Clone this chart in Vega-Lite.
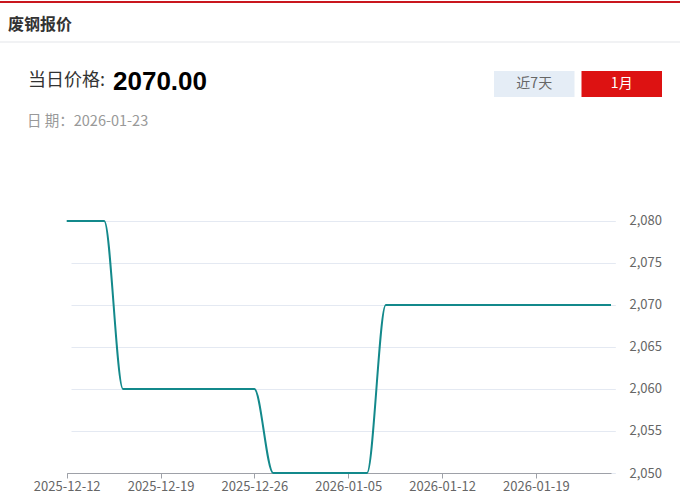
{
  "$schema": "https://vega.github.io/schema/vega-lite/v6.json",
  "width": 568,
  "height": 473,
  "autosize": {"type": "none"},
  "padding": {"left": 57, "top": 0, "right": 55, "bottom": 21},
  "background": "#ffffff",
  "config": {"view": {"stroke": null}, "font": "Noto Sans CJK SC"},
  "datasets": {
    "prices": [
      {"date": "2025-12-12", "price": 2080},
      {"date": "2025-12-15", "price": 2080},
      {"date": "2025-12-16", "price": 2080},
      {"date": "2025-12-17", "price": 2060},
      {"date": "2025-12-18", "price": 2060},
      {"date": "2025-12-19", "price": 2060},
      {"date": "2025-12-22", "price": 2060},
      {"date": "2025-12-23", "price": 2060},
      {"date": "2025-12-24", "price": 2060},
      {"date": "2025-12-25", "price": 2060},
      {"date": "2025-12-26", "price": 2060},
      {"date": "2025-12-29", "price": 2050},
      {"date": "2025-12-30", "price": 2050},
      {"date": "2025-12-31", "price": 2050},
      {"date": "2026-01-04", "price": 2050},
      {"date": "2026-01-05", "price": 2050},
      {"date": "2026-01-06", "price": 2050},
      {"date": "2026-01-07", "price": 2070},
      {"date": "2026-01-08", "price": 2070},
      {"date": "2026-01-09", "price": 2070},
      {"date": "2026-01-12", "price": 2070},
      {"date": "2026-01-13", "price": 2070},
      {"date": "2026-01-14", "price": 2070},
      {"date": "2026-01-15", "price": 2070},
      {"date": "2026-01-16", "price": 2070},
      {"date": "2026-01-19", "price": 2070},
      {"date": "2026-01-20", "price": 2070},
      {"date": "2026-01-21", "price": 2070},
      {"date": "2026-01-22", "price": 2070},
      {"date": "2026-01-23", "price": 2070}
    ]
  },
  "layer": [
    {
      "data": {"values": [{"k": "top"}]},
      "mark": {"type": "rule", "color": "#C9171E", "strokeWidth": 2},
      "encoding": {
        "x": {"datum": 0, "type": "quantitative", "scale": {"domain": [0, 1], "range": [-57, 623]}, "axis": null},
        "x2": {"datum": 1},
        "y": {"field": "k", "type": "nominal", "scale": {"range": [2, 2], "padding": 0}, "axis": null}
      }
    },
    {
      "data": {"values": [{"k": "sep"}]},
      "mark": {"type": "rule", "color": "#ECEEF1", "strokeWidth": 1.5},
      "encoding": {
        "x": {"datum": 0, "type": "quantitative", "scale": {"domain": [0, 1], "range": [-57, 623]}, "axis": null},
        "x2": {"datum": 1},
        "y": {"field": "k", "type": "nominal", "scale": {"range": [42, 42], "padding": 0}, "axis": null}
      }
    },
    {
      "data": {"values": [{"t": "废钢报价"}]},
      "mark": {"type": "text", "align": "left", "baseline": "middle", "fontSize": 16, "fontWeight": "bold", "color": "#333333"},
      "encoding": {
        "text": {"field": "t"},
        "x": {"field": "t", "type": "nominal", "scale": {"range": [-49, -49], "padding": 0}, "axis": null},
        "y": {"field": "t", "type": "nominal", "scale": {"range": [25, 25], "padding": 0}, "axis": null}
      }
    },
    {
      "data": {"values": [{"t": "当日价格:"}]},
      "mark": {"type": "text", "align": "left", "baseline": "middle", "fontSize": 18, "color": "#333333"},
      "encoding": {
        "text": {"field": "t"},
        "x": {"field": "t", "type": "nominal", "scale": {"range": [-29, -29], "padding": 0}, "axis": null},
        "y": {"field": "t", "type": "nominal", "scale": {"range": [81, 81], "padding": 0}, "axis": null}
      }
    },
    {
      "data": {"values": [{"t": "2070.00"}]},
      "mark": {"type": "text", "align": "left", "baseline": "middle", "fontSize": 26, "fontWeight": "bold", "font": "Liberation Sans", "color": "#000000"},
      "encoding": {
        "text": {"field": "t"},
        "x": {"field": "t", "type": "nominal", "scale": {"range": [56, 56], "padding": 0}, "axis": null},
        "y": {"field": "t", "type": "nominal", "scale": {"range": [82, 82], "padding": 0}, "axis": null}
      }
    },
    {
      "data": {"values": [{"t": "日 期：2026-01-23"}]},
      "mark": {"type": "text", "align": "left", "baseline": "middle", "fontSize": 14.5, "color": "#999999"},
      "encoding": {
        "text": {"field": "t"},
        "x": {"field": "t", "type": "nominal", "scale": {"range": [-30, -30], "padding": 0}, "axis": null},
        "y": {"field": "t", "type": "nominal", "scale": {"range": [122, 122], "padding": 0}, "axis": null}
      }
    },
    {
      "data": {"values": [{"t": "近7天"}, {"t": "1月"}]},
      "mark": {"type": "rect"},
      "encoding": {
        "x": {"field": "t", "type": "nominal", "sort": null, "scale": {"type": "band", "domain": ["近7天", "1月"], "range": [437, 605], "paddingInner": 0.08, "paddingOuter": 0}, "axis": null},
        "y": {"datum": "b", "type": "nominal", "scale": {"type": "band", "range": [71, 97], "paddingInner": 0, "paddingOuter": 0}, "axis": null},
        "color": {"field": "t", "type": "nominal", "scale": {"domain": ["近7天", "1月"], "range": ["#E5EDF6", "#DD1212"]}, "legend": null}
      }
    },
    {
      "data": {"values": [{"t": "近7天"}, {"t": "1月"}]},
      "mark": {"type": "text", "align": "center", "baseline": "middle", "fontSize": 14},
      "encoding": {
        "text": {"field": "t"},
        "x": {"field": "t", "type": "nominal", "sort": null, "scale": {"type": "band", "domain": ["近7天", "1月"], "range": [437, 605], "paddingInner": 0.08, "paddingOuter": 0}, "axis": null},
        "y": {"datum": "b", "type": "nominal", "scale": {"type": "band", "range": [71, 97], "paddingInner": 0, "paddingOuter": 0}, "axis": null},
        "color": {"field": "t", "type": "nominal", "scale": {"domain": ["近7天", "1月"], "range": ["#666666", "#ffffff"]}, "legend": null}
      }
    },
    {
      "data": {"name": "prices"},
      "mark": {"type": "line", "interpolate": "monotone", "color": "#13898B", "strokeWidth": 2},
      "encoding": {
        "x": {
          "field": "date", "type": "ordinal", "sort": null,
          "scale": {"type": "point", "range": [9.7, 554], "padding": 0},
          "axis": {
            "values": ["2025-12-12", "2025-12-19", "2025-12-26", "2026-01-05", "2026-01-12", "2026-01-19"],
            "title": null, "labelAngle": 0, "labelColor": "#666666", "labelFontSize": 13,
            "labelFont": "Noto Sans CJK SC", "domainColor": "#9EA1A8", "tickColor": "#9EA1A8",
            "tickSize": 5, "labelPadding": 2, "grid": false
          }
        },
        "y": {
          "field": "price", "type": "quantitative",
          "scale": {"domain": [2050, 2106.3], "nice": false, "zero": false},
          "axis": {
            "orient": "right", "values": [2050, 2055, 2060, 2065, 2070, 2075, 2080], "format": ",.0f",
            "title": null, "domain": false, "ticks": false, "labelPadding": 4,
            "labelColor": "#666666", "labelFontSize": 13, "labelFont": "Noto Sans CJK SC",
            "grid": true, "gridColor": "#E4E9F2", "gridWidth": 1
          }
        }
      }
    }
  ],
  "resolve": {"scale": {"x": "independent", "y": "independent", "color": "independent"}}
}
